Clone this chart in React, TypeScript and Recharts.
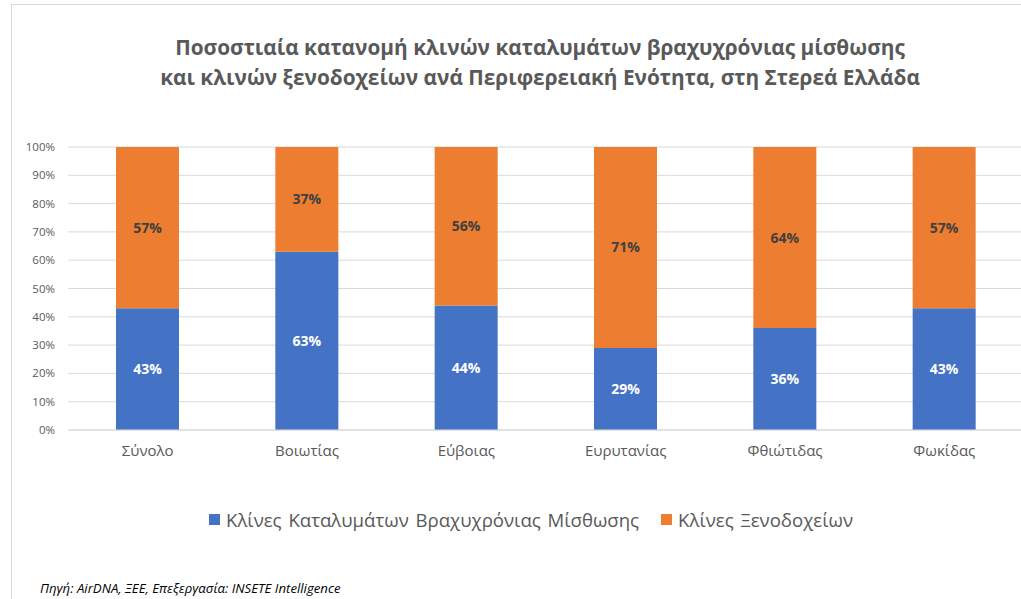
import React from "react";
import { BarChart, Bar, XAxis, YAxis, CartesianGrid, LabelList } from "recharts";

const categories = ["Σύνολο", "Βοιωτίας", "Εύβοιας", "Ευρυτανίας", "Φθιώτιδας", "Φωκίδας"];
const shortTermBeds = [43, 63, 44, 29, 36, 43];
const hotelBeds = [57, 37, 56, 71, 64, 57];
const yTicks = [0, 10, 20, 30, 40, 50, 60, 70, 80, 90, 100];
const seriesNames = ["Κλίνες Καταλυμάτων Βραχυχρόνιας Μίσθωσης", "Κλίνες Ξενοδοχείων"];
const seriesColors = ["#4472C4", "#ED7D31"];
const titleLines = [
  "Ποσοστιαία κατανομή κλινών καταλυμάτων βραχυχρόνιας μίσθωσης",
  "και κλινών ξενοδοχείων ανά Περιφερειακή Ενότητα, στη Στερεά Ελλάδα",
];
const sourceText = "Πηγή: AirDNA, ΞΕΕ, Επεξεργασία: INSETE Intelligence";

const data = categories.map((c, i) => ({ name: c, a: shortTermBeds[i], b: hotelBeds[i] }));

const FONT = "'Open Sans', 'Noto Sans', sans-serif";

export default function App() {
  return (
    <div style={{ position: "absolute", left: 0, top: 0, width: 1021, height: 599, overflow: "hidden", background: "#fff", fontFamily: FONT }}>
      <div style={{ position: "absolute", left: 11, top: 4, width: 1040, height: 700, borderLeft: "1px solid #d9d9d9", borderTop: "1px solid #d9d9d9" }} />
      <div style={{ position: "absolute", left: 0, top: 32, width: 1080, textAlign: "center", color: "#595959", fontWeight: 700, fontSize: 20.8, lineHeight: "30px" }}>
        {titleLines.map((t) => (<div key={t}>{t}</div>))}
      </div>
      <div style={{ position: "absolute", left: 0, top: 0 }}>
        <BarChart width={1030} height={599} data={data} margin={{ top: 147, right: 6, left: 10, bottom: 139 }} barSize={63}>
          <CartesianGrid vertical={false} stroke="#d9d9d9" />
          <XAxis dataKey="name" tickLine={false} axisLine={{ stroke: "#d9d9d9" }} tickSize={0} tickMargin={15} height={30}
            tick={{ fill: "#595959", fontSize: 15, fontFamily: FONT }} interval={0} />
          <YAxis width={58} domain={[0, 100]} ticks={yTicks} tickFormatter={(v) => `${v}%`} tickLine={false} axisLine={false}
            tickSize={0} tickMargin={13} tick={{ fill: "#595959", fontSize: 11.5, fontFamily: FONT }} />
          <Bar dataKey="a" stackId="s" fill={seriesColors[0]} isAnimationActive={false}>
            <LabelList dataKey="a" position="center" formatter={(v) => `${v}%`} fill="#ffffff" fontWeight={700} fontSize={14} fontFamily={FONT} />
          </Bar>
          <Bar dataKey="b" stackId="s" fill={seriesColors[1]} isAnimationActive={false}>
            <LabelList dataKey="b" position="center" formatter={(v) => `${v}%`} fill="#404040" fontWeight={700} fontSize={14} fontFamily={FONT} />
          </Bar>
        </BarChart>
      </div>
      <div style={{ position: "absolute", left: 0, top: 507, width: 1062, display: "flex", justifyContent: "center", alignItems: "center", color: "#595959", fontSize: 18.6, wordSpacing: 2 }}>
        {seriesNames.map((n, i) => (
          <div key={n} style={{ display: "flex", alignItems: "center", marginRight: i === 0 ? 22 : 0 }}>
            <span style={{ display: "inline-block", width: 11, height: 11, background: seriesColors[i], marginRight: 6 }} />
            <span>{n}</span>
          </div>
        ))}
      </div>
      <div style={{ position: "absolute", left: 40, top: 579, fontStyle: "italic", fontSize: 13.2, color: "#000" }}>{sourceText}</div>
    </div>
  );
}
